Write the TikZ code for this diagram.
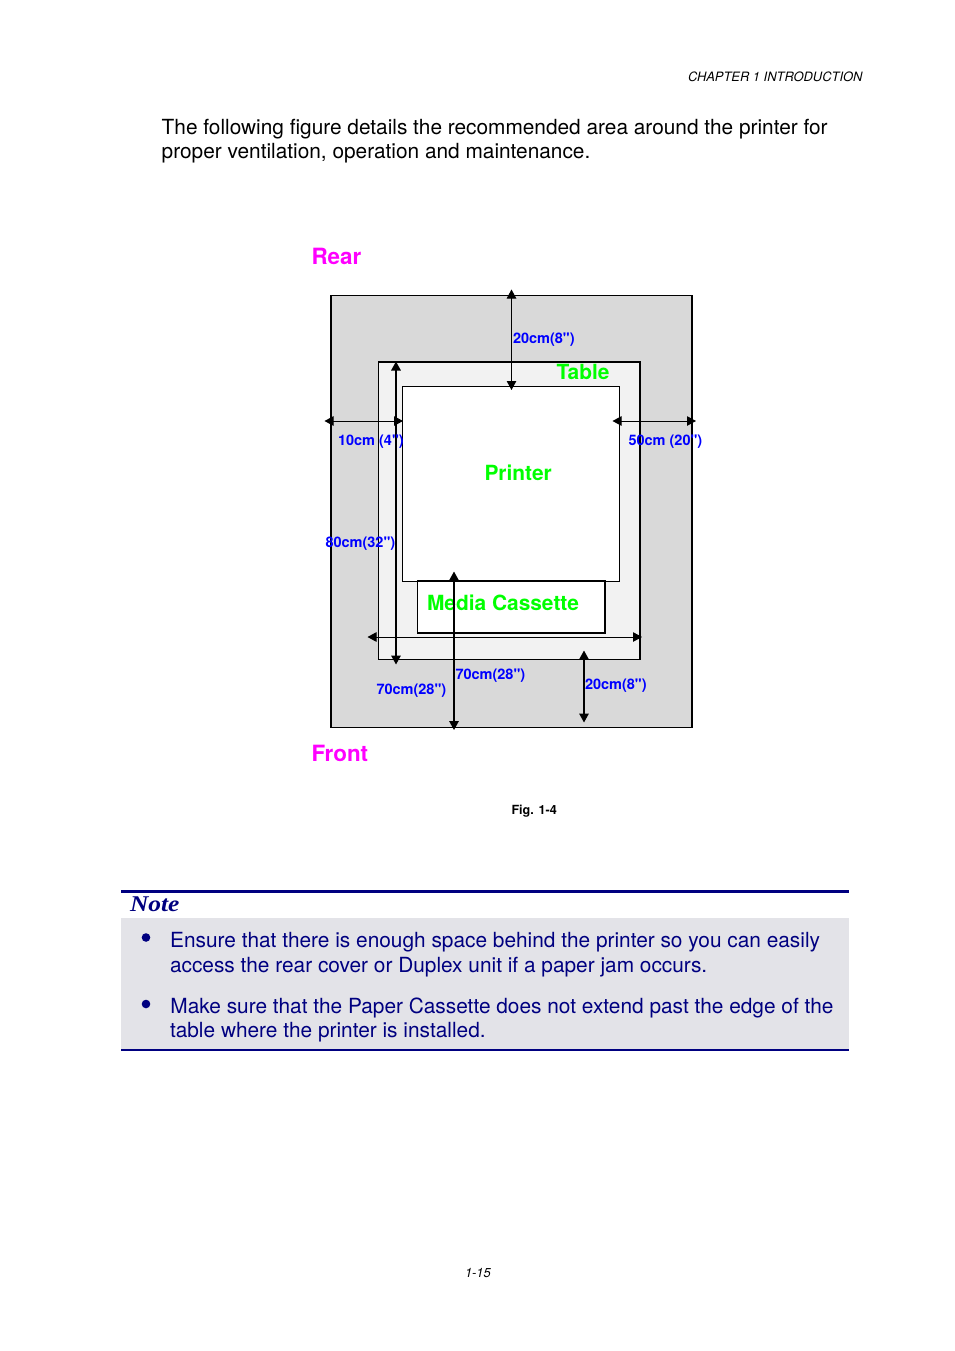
\documentclass[tikz,border=0pt]{standalone}
\usepackage{fontspec}
\setmainfont{TeX Gyre Heros}
\newfontfamily\plainheros{TeX Gyre Heros}
\newfontfamily\notefont[FakeStretch=1.13]{Liberation Serif}
\usetikzlibrary{arrows.meta}
\definecolor{navyink}{HTML}{000080}
\definecolor{noteband}{HTML}{E3E3E8}
\definecolor{zonegray}{HTML}{D9D9D9}
\definecolor{tablegray}{HTML}{F2F2F2}
\definecolor{dimblue}{HTML}{0000FF}
\definecolor{labelgreen}{HTML}{00FF00}
\definecolor{labelmagenta}{HTML}{FF00FF}
\tikzset{
  txt/.style={inner sep=0pt,outer sep=0pt,anchor=base west},
  body/.style={txt,font=\fontsize{20.83}{24}\selectfont,text=black},
  hdr/.style={txt,font=\fontsize{12.9}{15}\selectfont\itshape,text=black},
  side/.style={txt,font=\fontsize{22.4}{24}\selectfont\bfseries,text=labelmagenta},
  part/.style={txt,font=\fontsize{20.9}{24}\selectfont\bfseries,text=labelgreen},
  dimlabel/.style={txt,font=\fontsize{14.5}{16}\selectfont\plainheros\bfseries,text=dimblue},
  notebody/.style={txt,font=\fontsize{20.85}{24}\selectfont,text=navyink},
  zone/.style={draw=black,inner sep=0pt,outer sep=0pt,line width=1.5pt},
  dimarrow/.style={draw=black,line width=1.5pt,{Triangle[length=9pt,width=9.5pt]}-{Triangle[length=9pt,width=9.5pt]}},
  dimarrowthin/.style={dimarrow,line width=1pt},
}
\begin{document}
\begin{tikzpicture}[x=1pt,y=-1pt]
\useasboundingbox (0,0) rectangle (954,1351);
\fill[white] (0,0) rectangle (954,1351);
% header and intro
\node[hdr] (chapter) at (688,82) {CHAPTER 1 INTRODUCTION};
\node[body] (introa) at (161.7,134.5) {The following figure details the recommended area around the printer for};
\node[body] (introb) at (161.7,158.5) {proper ventilation, operation and maintenance.};
% plan
\node[side] (rear) at (311.5,264) {Rear};
\node[side] (front) at (311.5,761) {Front};
\node[zone,fill=zonegray,minimum width=361pt,minimum height=432pt] (outer) at (511.5,511.5) {};
\node[zone,fill=tablegray,minimum width=261.5pt,minimum height=297.5pt] (table) at (509.4,510.5) {};
\node[zone,fill=white,line width=1.2pt,minimum width=217pt,minimum height=194.8pt] (printer) at (511,483.8) {};
\node[zone,fill=white,minimum width=187.5pt,minimum height=52pt] (cassette) at (511.4,607.2) {};
\node[part] (tablelabel) at (556.5,379) {Table};
\node[part] (printerlabel) at (484.5,480) {Printer};
\node[part] (cassettelabel) at (427,610) {Media Cassette};
% arrow ends
\coordinate (topa) at (511.5,289.5);
\coordinate (topb) at (511.5,390);
\coordinate (lefta) at (324.5,421);
\coordinate (leftb) at (403,421);
\coordinate (righta) at (612.5,421);
\coordinate (rightb) at (696,421);
\coordinate (deptha) at (396,361.5);
\coordinate (depthb) at (396,664.5);
\coordinate (centera) at (454,571.5);
\coordinate (centerb) at (454,730);
\coordinate (wida) at (367.5,637);
\coordinate (widb) at (642,637);
\coordinate (lowa) at (584,650.5);
\coordinate (lowb) at (584,722.5);
\draw[dimarrowthin] (topa) -- (topb);
\draw[dimarrowthin] (lefta) -- (leftb);
\draw[dimarrowthin] (righta) -- (rightb);
\draw[dimarrow] (deptha) -- (depthb);
\draw[dimarrow] (centera) -- (centerb);
\draw[dimarrowthin] (wida) -- (widb);
\draw[dimarrow] (lowa) -- (lowb);
% dimension labels
\node[dimlabel] (dtop) at (513,343) {20cm(8")};
\node[dimlabel] (dleft) at (338,445) {10cm (4")};
\node[dimlabel] (dright) at (628.5,445) {50cm (20")};
\node[dimlabel] (ddepth) at (325.5,547) {80cm(32")};
\node[dimlabel] (dcentre) at (455.5,679) {70cm(28")};
\node[dimlabel] (dfront) at (376.5,694) {70cm(28")};
\node[dimlabel] (dlow) at (585,689) {20cm(8")};
\node[txt,font=\fontsize{12.6}{15}\selectfont\bfseries,text=black] (figcap) at (511.5,814) {Fig. 1-4};
% note
\fill[noteband] (121,918) rectangle (849,1049.5);
\draw[navyink,line width=3pt] (121,891) -- (849,891);
\draw[navyink,line width=2pt] (121,1050) -- (849,1050);
\node[txt,font=\fontsize{22.5}{26}\selectfont\notefont\bfseries\itshape,text=navyink] (note) at (130,911.5) {Note};
\fill[navyink] (146,937.5) circle (4.3pt);
\fill[navyink] (146,1004) circle (4.3pt);
\node[notebody] (na) at (170.2,947.5) {Ensure that there is enough space behind the printer so you can easily};
\node[notebody] (nb) at (170,972) {access the rear cover or Duplex unit if a paper jam occurs.};
\node[notebody] (nc) at (170.4,1013.5) {Make sure that the Paper Cassette does not extend past the edge of the};
\node[notebody] (nd) at (170,1037.5) {table where the printer is installed.};
\node[hdr] (pageno) at (465,1277) {1-15};
\end{tikzpicture}
\end{document}
